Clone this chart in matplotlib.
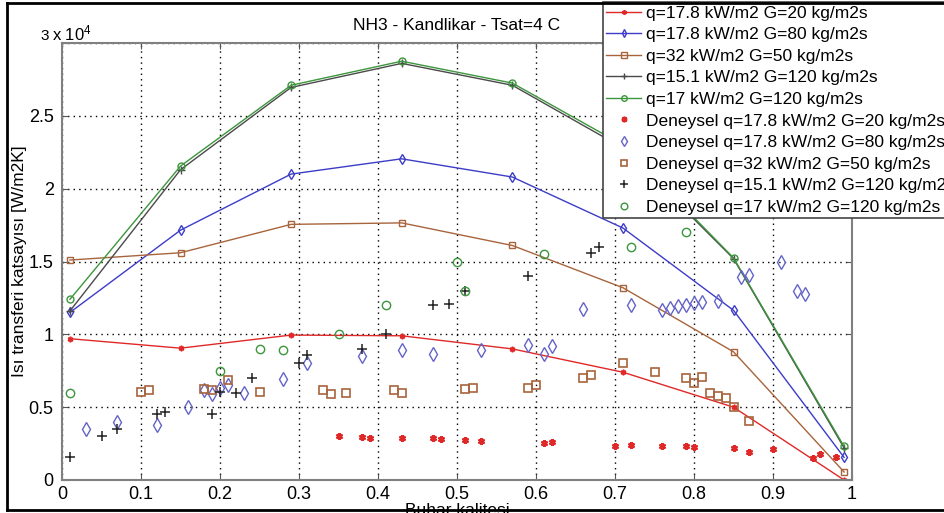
import matplotlib
matplotlib.use('Agg')
import matplotlib.pyplot as plt
from matplotlib.lines import Line2D

plt.rcParams['font.family'] = ['Liberation Sans', 'DejaVu Sans']
plt.rcParams['mathtext.default'] = 'regular'

# model (Kandlikar) curves
x_model = [0.01, 0.15, 0.29, 0.43, 0.57, 0.71, 0.85, 0.99]
h_q178_g20 = [9700, 9050, 9950, 9900, 9000, 7400, 5000, 0]
h_q178_g80 = [11500, 17150, 21000, 22050, 20800, 17300, 11650, 1550]
h_q32_g50 = [15100, 15600, 17550, 17650, 16100, 13200, 8800, 550]
h_q151_g120 = [11600, 21300, 26950, 28600, 27100, 22800, 15200, 2200]
h_q17_g120 = [12400, 21550, 27100, 28750, 27250, 23000, 15250, 2300]

# experimental points
x_exp_q178_g20 = [0.35, 0.38, 0.39, 0.43, 0.47, 0.48, 0.51, 0.53, 0.61, 0.62, 0.70,
                  0.72, 0.76, 0.79, 0.80, 0.85, 0.87, 0.90, 0.95, 0.96, 0.98]
y_exp_q178_g20 = [3000, 2950, 2900, 2900, 2850, 2800, 2750, 2650, 2550, 2600, 2350,
                  2400, 2350, 2300, 2250, 2200, 1900, 2100, 1500, 1800, 1600]

x_exp_q178_g80 = [0.03, 0.07, 0.12, 0.16, 0.18, 0.19, 0.20, 0.21, 0.23, 0.28, 0.31,
                  0.38, 0.43, 0.47, 0.53, 0.59, 0.61, 0.62, 0.66, 0.72, 0.76, 0.77,
                  0.78, 0.79, 0.80, 0.81, 0.83, 0.86, 0.87, 0.91, 0.93, 0.94]
y_exp_q178_g80 = [3500, 4000, 3800, 5000, 6200, 5900, 6350, 6500, 6000, 6950, 8050,
                  8500, 8950, 8650, 8950, 9300, 8650, 9200, 11750, 12000, 11700, 11800,
                  11950, 12000, 12150, 12200, 12300, 13950, 14050, 14950, 12980, 12800]

x_exp_q32_g50 = [0.10, 0.11, 0.18, 0.19, 0.21, 0.25, 0.33, 0.34, 0.36, 0.42, 0.43,
                 0.51, 0.52, 0.59, 0.60, 0.66, 0.67, 0.71, 0.75, 0.79, 0.80, 0.81,
                 0.82, 0.83, 0.84, 0.85, 0.87]
y_exp_q32_g50 = [6050, 6200, 6250, 6150, 6850, 6050, 6150, 5900, 6000, 6150, 6000,
                 6250, 6350, 6350, 6500, 7000, 7200, 8000, 7400, 7000, 6650, 7100,
                 6000, 5750, 5650, 5000, 4050]

x_exp_q151_g120 = [0.01, 0.05, 0.07, 0.12, 0.13, 0.19, 0.20, 0.22, 0.24, 0.30, 0.31,
                   0.38, 0.41, 0.47, 0.49, 0.51, 0.59, 0.67, 0.68]
y_exp_q151_g120 = [1550, 3000, 3500, 4550, 4650, 4550, 6050, 6000, 7000, 8000, 8550,
                   9000, 10000, 12000, 12100, 13000, 14000, 15550, 16000]

x_exp_q17_g120 = [0.01, 0.20, 0.25, 0.28, 0.35, 0.41, 0.50, 0.51, 0.61, 0.72, 0.79]
y_exp_q17_g120 = [6000, 7450, 9000, 8900, 10000, 12000, 15000, 13000, 15500, 16000, 17000]

labels_model = ['q=17.8 kW/m2 G=20 kg/m2s', 'q=17.8 kW/m2 G=80 kg/m2s',
                'q=32 kW/m2 G=50 kg/m2s', 'q=15.1 kW/m2 G=120 kg/m2s',
                'q=17 kW/m2 G=120 kg/m2s']
x_ticks = [0, 0.1, 0.2, 0.3, 0.4, 0.5, 0.6, 0.7, 0.8, 0.9, 1]
x_tick_labels = ['0', '0.1', '0.2', '0.3', '0.4', '0.5', '0.6', '0.7', '0.8', '0.9', '1']
y_ticks = [0, 5000, 10000, 15000, 20000, 25000, 30000]
y_tick_labels = ['0', '0.5', '1', '1.5', '2', '2.5', '']

RED = '#e02828'
BLUE = '#3c3cc8'
BROWN = '#a8643c'
GRAY = '#4a4a4a'
GREEN = '#3c963c'

fig = plt.figure(figsize=(9.44, 5.13), dpi=100)
ax = fig.add_axes([62 / 944, 33 / 513, 790 / 944, 437 / 513])

ax.plot(x_model, h_q178_g20, color=RED, lw=1, marker=(6, 2, 0), ms=4, mew=1.2,
        label=labels_model[0])
ax.plot(x_model, h_q178_g80, color=BLUE, lw=1, marker='d', ms=5, mfc='none', mew=1,
        label=labels_model[1])
ax.plot(x_model, h_q32_g50, color=BROWN, lw=1, marker='s', ms=5, mfc='none', mew=1,
        label=labels_model[2])
ax.plot(x_model, h_q151_g120, color=GRAY, lw=1, marker='+', ms=6, mew=1,
        label=labels_model[3])
ax.plot(x_model, h_q17_g120, color=GREEN, lw=1, marker='o', ms=5, mfc='none', mew=1,
        label=labels_model[4])

ax.plot(x_exp_q178_g20, y_exp_q178_g20, ls='none', color=RED, marker=(6, 2, 0),
        ms=5, mew=1.6, label='Deneysel ' + labels_model[0])
ax.plot(x_exp_q178_g80, y_exp_q178_g80, ls='none', color='#6464c8', marker='d',
        ms=7, mfc='none', mew=1, label='Deneysel ' + labels_model[1])
ax.plot(x_exp_q32_g50, y_exp_q32_g50, ls='none', color=BROWN, marker='s',
        ms=6, mfc='none', mew=1.2, label='Deneysel ' + labels_model[2])
ax.plot(x_exp_q151_g120, y_exp_q151_g120, ls='none', color='#222222', marker='+',
        ms=6.5, mew=1.1, label='Deneysel ' + labels_model[3])
ax.plot(x_exp_q17_g120, y_exp_q17_g120, ls='none', color=GREEN, marker='o',
        ms=6, mfc='none', mew=1, label='Deneysel ' + labels_model[4])

ax.set_xlim(0, 1)
ax.set_ylim(0, 30000)
ax.set_xticks(x_ticks)
ax.set_xticklabels(x_tick_labels)
ax.set_yticks(y_ticks)
ax.set_yticklabels(y_tick_labels)
ax.tick_params(direction='in', length=4, top=True, right=True, labelsize=13,
               color='#555555', pad=6)
ax.tick_params(axis='x', pad=4)
ax.grid(True, color='black', ls=(0, (1, 3)), lw=1)
for s in ax.spines.values():
    s.set_color('#808080')
    s.set_linewidth(1.5)

ax.text(-0.016, 1.0, '3', transform=ax.transAxes, ha='right', va='bottom', fontsize=11)
ax.text(-0.013, 1.0, r'x 10$^4$', transform=ax.transAxes, ha='left', va='bottom',
        fontsize=12)

ax.set_title('NH3 - Kandlikar - Tsat=4 C', fontsize=12.5, pad=9)
ax.set_xlabel('Buhar kalitesi', fontsize=12.5, labelpad=0)
ax.set_ylabel('Isı transferi katsayısı [W/m2K]', fontsize=12.5, labelpad=1)

leg = ax.legend(loc='upper left', bbox_to_anchor=(603 / 944, 1 - 2 / 513),
                bbox_transform=fig.transFigure, fontsize=12.5, frameon=True,
                fancybox=False, framealpha=1, edgecolor='#444444',
                labelspacing=0.37, handlelength=2.0, handletextpad=0.25,
                borderpad=0.2, borderaxespad=0, markerscale=0.8)
leg.get_frame().set_linewidth(1.2)

# outer frame
fig.add_artist(Line2D([7 / 944, 7 / 944], [3 / 513, 1 - 3 / 513], color='k', lw=2,
                      transform=fig.transFigure))
fig.add_artist(Line2D([7 / 944, 1], [1 - 3 / 513, 1 - 3 / 513], color='k', lw=2,
                      transform=fig.transFigure))
fig.add_artist(Line2D([7 / 944, 1], [3 / 513, 3 / 513], color='k', lw=2,
                      transform=fig.transFigure))

fig.savefig('out.png', dpi=100)
